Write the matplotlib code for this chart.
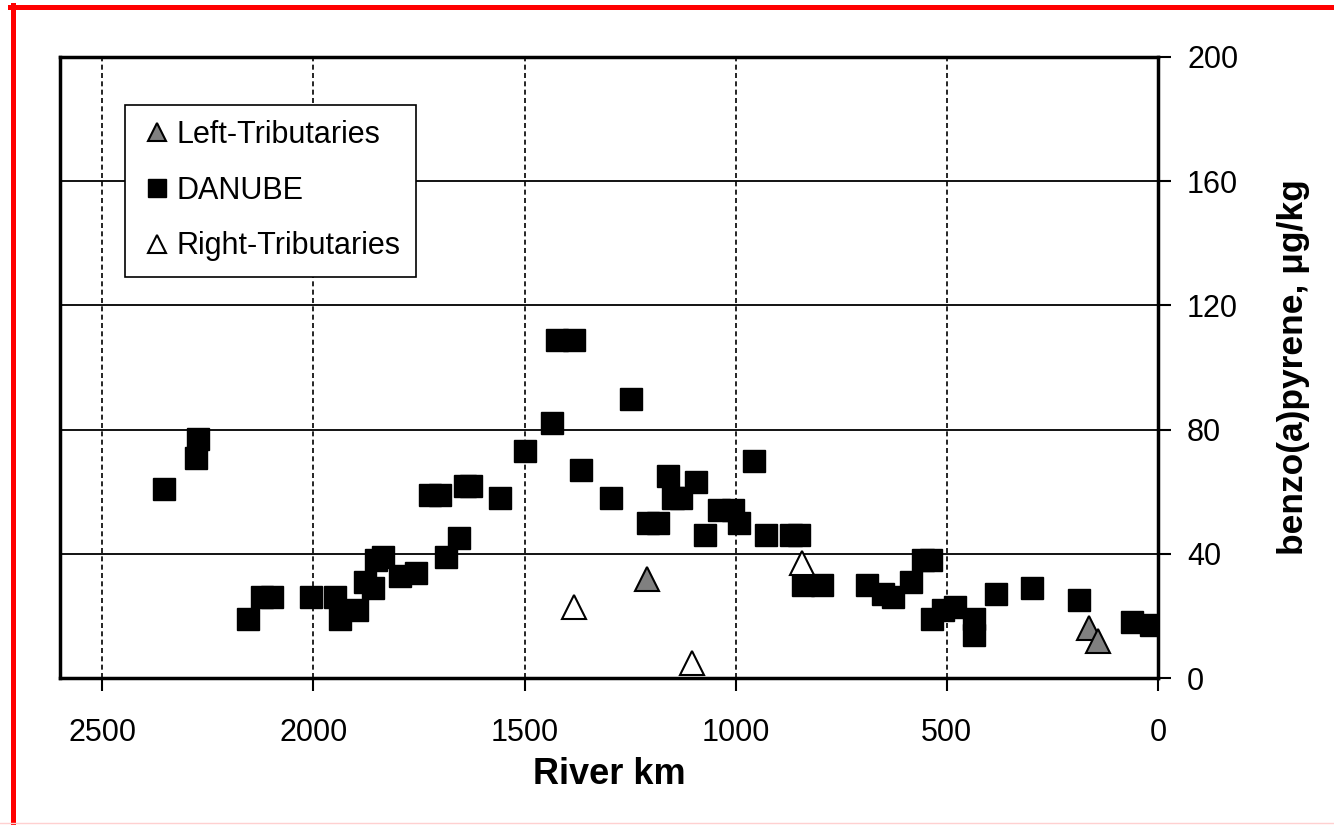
import matplotlib.pyplot as plt
from matplotlib.lines import Line2D

# River km and benzo(a)pyrene (ug/kg)
danube_km = [2353, 2277, 2273, 2156, 2121, 2097, 2005, 1950, 1938, 1896,
             1877, 1858, 1851, 1834, 1794, 1758, 1723, 1699, 1687, 1656,
             1642, 1626, 1557, 1498, 1434, 1422, 1384, 1367, 1296, 1249,
             1208, 1185, 1161, 1149, 1130, 1095, 1073, 1040, 1007, 991,
             957, 929, 870, 851, 841, 796, 690, 652, 628, 585,
             557, 538, 536, 509, 481, 436, 436, 384, 299, 187,
             62, 17]
danube_bap = [61, 71, 77, 19, 26, 26, 26, 26, 19, 22,
              31, 29, 38, 39, 33, 34, 59, 59, 39, 45,
              62, 62, 58, 73, 82, 109, 109, 67, 58, 90,
              50, 50, 65, 58, 58, 63, 46, 54, 54, 50,
              70, 46, 46, 46, 30, 30, 30, 27, 26, 31,
              38, 38, 19, 22, 23, 19, 14, 27, 29, 25,
              18, 17]

left_km = [1211, 163, 142]
left_bap = [32, 16, 12]

right_km = [1382, 1104, 844]
right_bap = [23, 5, 37]

x_ticks = [2500, 2000, 1500, 1000, 500, 0]
y_ticks = [0, 40, 80, 120, 160, 200]

plt.rcParams['font.family'] = ['Liberation Sans', 'DejaVu Sans']

fig = plt.figure(figsize=(13.34, 8.25), dpi=100)
ax = fig.add_axes([0.045, 0.178, 0.823, 0.753])

# grid: dashed verticals, solid horizontals
for xv in x_ticks[:-1]:
    ax.axvline(xv, color='black', linestyle=(0, (3, 2)), linewidth=1.2, zorder=1)
for yv in y_ticks[1:-1]:
    ax.axhline(yv, color='black', linestyle='-', linewidth=1.3, zorder=1)

ax.plot(left_km, left_bap, '^', markersize=17, markerfacecolor='#808080',
        markeredgecolor='black', markeredgewidth=1.5, label='Left-Tributaries', zorder=3)
ax.plot(danube_km, danube_bap, 's', markersize=16, markerfacecolor='black',
        markeredgecolor='black', markeredgewidth=1.0, label='DANUBE', zorder=3)
ax.plot(right_km, right_bap, '^', markersize=17, markerfacecolor='white',
        markeredgecolor='black', markeredgewidth=1.5, label='Right-Tributaries', zorder=3)

ax.set_xlim(2600, 0)
ax.set_ylim(0, 200)
ax.set_xticks(x_ticks)
ax.set_yticks(y_ticks)
ax.yaxis.tick_right()
ax.yaxis.set_label_position('right')
ax.tick_params(axis='both', direction='out', length=9, width=1.5, labelsize=22)
ax.tick_params(axis='x', pad=20)
ax.tick_params(axis='y', pad=12)
for sp in ax.spines.values():
    sp.set_linewidth(2.5)

ax.set_xlabel('River km', fontsize=26, fontweight='bold', labelpad=6)
ax.set_ylabel('benzo(a)pyrene, μg/kg', fontsize=25.5, fontweight='bold', labelpad=28)

leg = ax.legend(loc='upper left', bbox_to_anchor=(0.059, 0.923), borderaxespad=0,
                fontsize=22, markerscale=0.8, handlelength=1.1, handletextpad=0.1,
                labelspacing=0.84, borderpad=0.5, fancybox=False, framealpha=1)
leg.get_frame().set_edgecolor('black')
leg.get_frame().set_linewidth(1.2)

# red frame around the picture (left and top), faint line at the bottom
fig.add_artist(Line2D([0.0094, 0.0094], [0, 0.994], color='red', linewidth=3.6))
fig.add_artist(Line2D([0.0075, 1.0], [0.991, 0.991], color='red', linewidth=3.6))
fig.add_artist(Line2D([0, 1.0], [0.002, 0.002], color='#ffd0d0', linewidth=1.0))

fig.savefig('out.png', dpi=100)
